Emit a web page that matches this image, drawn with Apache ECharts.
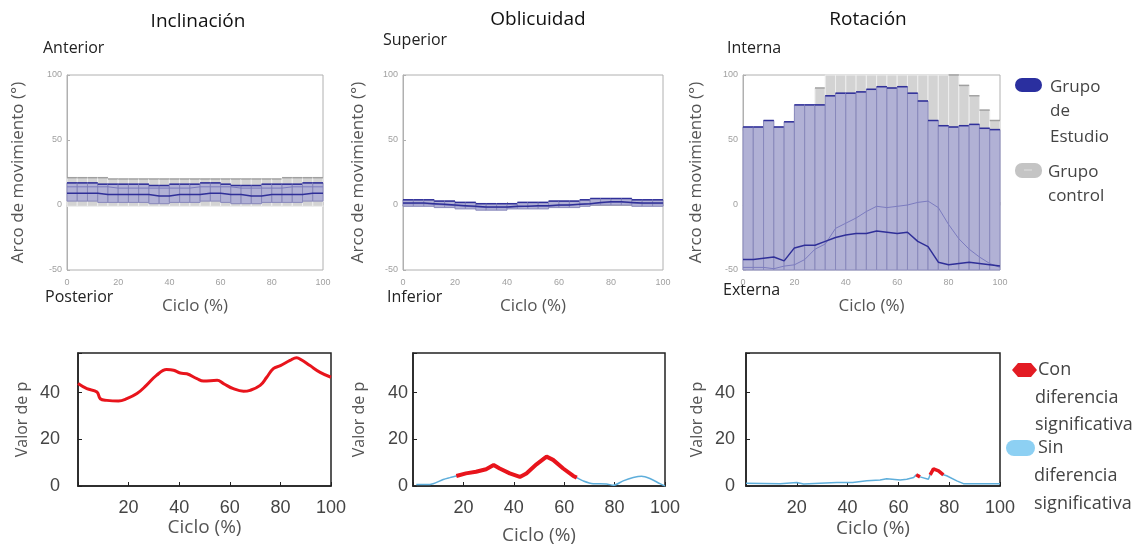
<!DOCTYPE html>
<html>
<head>
<meta charset="utf-8">
<script src="https://cdn.jsdelivr.net/npm/echarts@6/dist/echarts.min.js"></script>
<style>
  html, body { margin: 0; background: #fff; }
  #chart { width: 1148px; height: 548px; }
</style>
</head>
<body>
<div id="chart"></div>
<script>
// ciclo (%) de cada barra de error (centro) y de las medias
const cycleBar = [2, 6, 10, 14, 18, 22, 26, 30, 34, 38, 42, 46, 50, 54, 58, 62, 66, 70, 74, 78, 82, 86, 90, 94, 98]
const cycleLine = [0, 4, 8, 12, 16, 20, 24, 28, 32, 36, 40, 44, 48, 52, 56, 60, 64, 68, 72, 76, 80, 84, 88, 92, 96, 100]

// Inclinación
const incStudyLo = [3, 3, 3, 2, 2, 2, 2, 2, 1, 1, 2, 2, 2, 3, 3, 2, 1, 1, 1, 2, 2, 2, 2, 3, 3]
const incStudyHi = [17, 17, 17, 16, 16, 16, 16, 16, 15, 15, 16, 16, 16, 17, 17, 16, 15, 15, 15, 16, 16, 16, 16, 17, 17]
const incCtrlLo = [-1, -1, -1, -1, -1, -1, -1, -1, -1, -1, -1, -1, -1, -1, -1, -1, -1, -1, -1, -1, -1, -1, -1, -1, -1]
const incCtrlHi = [21, 21, 21, 21, 20, 20, 20, 20, 20, 20, 20, 20, 20, 20, 20, 20, 20, 20, 20, 20, 20, 21, 21, 21, 21]
const incStudyMean = [9, 9, 9, 9, 8, 8, 8, 8, 8, 7, 7, 8, 8, 8, 9, 9, 8, 8, 7, 7, 8, 8, 8, 8, 9, 9]
const incCtrlMean = [14, 14, 14, 14, 14, 13, 13, 13, 13, 13, 13, 13, 13, 14, 14, 14, 14, 13, 13, 13, 13, 13, 14, 14, 14, 14]

// Oblicuidad
const oblStudyLo = [-1, -1, -1, -2, -2, -3, -3, -4, -4, -4, -3, -3, -3, -3, -2, -2, -2, -1, 0, 0, 0, 0, -1, -1, -1]
const oblStudyHi = [4, 4, 4, 3, 3, 2, 2, 1, 1, 1, 1, 2, 2, 2, 3, 3, 3, 4, 5, 5, 5, 5, 4, 4, 4]
const oblCtrlLo = [0, 0, 0, -1, -1, -2, -2, -3, -3, -3, -2, -2, -2, -2, -1, -1, -1, 0, 1, 1, 1, 1, 0, 0, 0]
const oblCtrlHi = [3, 3, 3, 2, 2, 1, 1, 0, 0, 0, 0, 1, 1, 1, 2, 2, 2, 3, 4, 4, 4, 4, 3, 3, 3]
const oblStudyMean = [1.5, 1.5, 1.5, 1, 0.5, 0, -0.5, -1, -1.5, -1.5, -1.5, -1, -1, -0.5, -0.5, 0, 0, 0.5, 1, 2, 2.5, 2.5, 2, 1.5, 1.5, 1.5]
const oblCtrlMean = [1, 1, 1, 0.5, 0, -0.5, -1, -1.5, -2, -2, -2, -1.5, -1, -1, -1, -0.5, 0, 0.5, 1, 1.5, 2, 2, 1.5, 1, 1, 1]

// Rotación
const rotStudyLo = [-50, -50, -50, -50, -50, -50, -50, -50, -50, -50, -50, -50, -50, -50, -50, -50, -50, -50, -50, -50, -50, -50, -50, -50, -50]
const rotStudyHi = [60, 60, 65, 60, 64, 77, 77, 77, 84, 86, 86, 87, 89, 91, 90, 91, 86, 80, 65, 61, 60, 61, 62, 59, 58]
const rotCtrlLo = [-55, -55, -55, -55, -55, -55, -55, -55, -55, -55, -55, -55, -55, -55, -55, -55, -55, -55, -55, -55, -55, -55, -55, -55, -55]
const rotCtrlHi = [57, 56, 57, 58, 60, 70, 76, 90, 102, 106, 108, 110, 110, 110, 110, 108, 106, 104, 102, 101, 100, 92, 84, 73, 65]
const rotStudyMean = [-42, -42, -41, -40, -43, -33, -31, -31, -28, -25, -23, -22, -22, -20, -21, -22, -21, -28, -32, -44, -46, -45, -44, -45, -46, -47]
const rotCtrlMean = [-48, -48, -48, -49, -47, -46, -42, -34, -30, -18, -14, -10, -5, -1, -2, -1, 0, 2, 3, -2, -15, -26, -34, -40, -45, -48]

// Valor de p
const incPx = [0, 3.5, 7.5, 8.8, 11.4, 16, 19.3, 23.3, 27, 31, 35, 37.8, 40.4, 43, 47, 49.6, 55, 57.5, 61.4, 65.4, 68, 72, 74.6, 77.2, 80, 83.8, 86.4, 88.4, 91.7, 95.7, 100]
const incP = [43.9, 41.7, 40.3, 37.4, 36.7, 36.4, 37.4, 39.6, 43.1, 47.4, 49.9, 49.6, 48.4, 48.1, 46, 45, 45.3, 43.9, 41.7, 40.6, 41, 43.1, 46.6, 50.3, 51.6, 53.8, 55, 54, 51.6, 48.7, 46.6]

const oblPx = [1.3, 5.3, 8, 12, 14.6, 17.2, 21, 25, 29, 32, 34.4, 38.4, 42.4, 45, 49, 53, 55.6, 59.6, 63.6, 65, 67.5, 71.5, 76.8, 79.5, 83.4, 87.4, 90.7, 94, 98, 100]
const oblP = [0.6, 0.6, 1, 2.8, 3.6, 4.3, 5.4, 6.1, 7.2, 9, 7.5, 5.4, 3.9, 5.4, 9.3, 12.6, 11.2, 7.5, 4.3, 3.6, 2.2, 1, 0.9, 0.3, 2.2, 3.6, 4.2, 3.2, 1, 0]
const oblSig = [[17, 65.5]]

const rotPx = [0, 13.5, 20, 22.7, 29, 35.8, 42, 47.6, 52.8, 55.4, 60.7, 63.3, 66, 67, 68.5, 71.8, 72.5, 73.8, 75.8, 77.7, 79, 83, 85.6, 92, 100]
const rotP = [1.2, 1, 1.5, 0.9, 1.2, 1.5, 1.5, 2.2, 2.6, 3.1, 2.6, 2.9, 3.6, 4.8, 3.9, 2.9, 4.8, 7.3, 6.5, 4.8, 4.4, 2.2, 1, 1, 1]
const rotSig = [[66.5, 69], [72, 78]]

const FONT = '"Open Sans", "Noto Sans", sans-serif'
const HALF = 2

const zip = (xs, ys) => xs.map((x, i) => [x, ys[i]])
const band = (lo, hi) => cycleBar.map((x, i) => [x, lo[i], hi[i]])
const sigOnly = (xs, ys, ranges) => xs.map((x, i) =>
  ranges.some(r => x >= r[0] && x <= r[1]) ? [x, ys[i]] : [x, '-'])

// barras de error dibujadas como rectángulos verticales
function bandRender(fill, stroke, capColor) {
  return function (params, api) {
    const x = api.value(0), lo = api.value(1), hi = api.value(2)
    const a = api.coord([x - HALF, hi])
    const b = api.coord([x + HALF, lo])
    const cs = params.coordSys
    const r = echarts.graphic.clipRectByRect(
      {x: a[0], y: a[1], width: b[0] - a[0], height: b[1] - a[1]},
      {x: cs.x, y: cs.y, width: cs.width, height: cs.height})
    if (!r) return
    const children = [{type: 'rect', shape: r, style: {fill: fill, stroke: stroke, lineWidth: 1}}]
    if (a[1] >= cs.y) {
      children.push({type: 'line', shape: {x1: r.x, y1: a[1], x2: r.x + r.width, y2: a[1]},
        style: {stroke: capColor, lineWidth: 1.5}})
    }
    return {type: 'group', children: children}
  }
}

const topGrids = [
  {left: 67, top: 75, width: 256, height: 195},
  {left: 403, top: 75, width: 260, height: 195},
  {left: 743, top: 75, width: 257, height: 195}
]
const botGrids = [
  {left: 78, top: 353, width: 253, height: 133},
  {left: 413, top: 353, width: 252, height: 133},
  {left: 746, top: 353, width: 254, height: 133}
]
const topNameGap = [40, 36, 38]
const botNameGap = [48, 46, 41]
const botLabelMargin = [18, 5, 11]
const botXNameGap = [29, 40, 33]

const grids = topGrids.concat(botGrids).map(g =>
  Object.assign({show: true, borderColor: g.top < 300 ? '#b0b0b0' : '#222', borderWidth: g.top < 300 ? 1 : 1.5, backgroundColor: 'transparent'}, g))

const xAxes = [], yAxes = []
topGrids.forEach((g, i) => {
  xAxes.push({
    type: 'value', gridIndex: i, min: 0, max: 100, interval: 20,
    axisLine: {lineStyle: {color: '#b0b0b0'}},
    axisTick: {inside: true, length: 3, lineStyle: {color: '#b0b0b0'}},
    axisLabel: {fontSize: 9, color: '#a0a0a0', margin: 8, fontFamily: 'Liberation Sans'},
    splitLine: {show: false},
    name: 'Ciclo (%)', nameLocation: 'middle', nameGap: 28,
    nameTextStyle: {fontSize: 17, color: '#555', fontFamily: FONT}
  })
  yAxes.push({
    type: 'value', gridIndex: i, min: -50, max: 100, interval: 50,
    axisLine: {lineStyle: {color: '#b0b0b0'}},
    axisTick: {inside: true, length: 3, lineStyle: {color: '#b0b0b0'}},
    axisLabel: {fontSize: 9, color: '#a0a0a0', margin: 5, fontFamily: 'Liberation Sans'},
    splitLine: {show: false},
    name: 'Arco de movimiento (°)', nameLocation: 'middle', nameGap: topNameGap[i],
    nameTextStyle: {fontSize: 17, color: '#555', fontFamily: FONT}
  })
})
botGrids.forEach((g, i) => {
  xAxes.push({
    type: 'value', gridIndex: i + 3, min: 0, max: 100, interval: 20,
    axisLine: {lineStyle: {color: '#222', width: 1.5}},
    axisTick: {inside: true, length: 4, lineStyle: {color: '#222'}},
    axisLabel: {fontSize: 18, color: '#444', margin: 13, fontFamily: 'Liberation Sans',
      formatter: v => v === 0 ? '' : v},
    splitLine: {show: false},
    name: 'Ciclo (%)', nameLocation: 'middle', nameGap: botXNameGap[i],
    nameTextStyle: {fontSize: 19, color: '#555', fontFamily: FONT}
  })
  yAxes.push({
    type: 'value', gridIndex: i + 3, min: 0, max: 57, interval: 20,
    axisLine: {lineStyle: {color: '#222', width: 1.5}},
    axisTick: {inside: true, length: 4, lineStyle: {color: '#222'}},
    axisLabel: {fontSize: 18, color: '#444', margin: botLabelMargin[i], fontFamily: 'Liberation Sans',
      formatter: v => v % 20 === 0 ? v : ''},
    splitLine: {show: false},
    name: 'Valor de p', nameLocation: 'middle', nameGap: botNameGap[i],
    nameTextStyle: {fontSize: 16, color: '#555', fontFamily: FONT}
  })
})

const bandSets = [
  [incStudyLo, incStudyHi, incCtrlLo, incCtrlHi, incStudyMean, incCtrlMean],
  [oblStudyLo, oblStudyHi, oblCtrlLo, oblCtrlHi, oblStudyMean, oblCtrlMean],
  [rotStudyLo, rotStudyHi, rotCtrlLo, rotCtrlHi, rotStudyMean, rotCtrlMean]
]

const series = []
bandSets.forEach((s, i) => {
  series.push({
    type: 'custom', xAxisIndex: i, yAxisIndex: i, name: 'Grupo control',
    renderItem: bandRender('#d3d3d3', '#ededed', '#a0a0a0'),
    encode: {x: 0, y: [1, 2]}, data: band(s[2], s[3]), silent: true
  })
  series.push({
    type: 'custom', xAxisIndex: i, yAxisIndex: i, name: 'Grupo de Estudio',
    renderItem: bandRender('#b1b1d5', '#8888bb', '#30309a'),
    encode: {x: 0, y: [1, 2]}, data: band(s[0], s[1]), silent: true
  })
  series.push({
    type: 'line', xAxisIndex: i, yAxisIndex: i, data: zip(cycleLine, s[5]),
    showSymbol: false, lineStyle: {color: '#7b7bbf', width: 1}, silent: true
  })
  series.push({
    type: 'line', xAxisIndex: i, yAxisIndex: i, data: zip(cycleLine, s[4]),
    showSymbol: false, lineStyle: {color: '#2f2f98', width: 1.5}, silent: true
  })
})

const BLUE = '#5eaedb', RED = '#e8141c'
// Inclinación: todo significativo
series.push({type: 'line', xAxisIndex: 3, yAxisIndex: 3, data: zip(incPx, incP), smooth: 0.4,
  showSymbol: false, lineStyle: {color: RED, width: 3}})
// Oblicuidad
series.push({type: 'line', xAxisIndex: 4, yAxisIndex: 4, data: zip(oblPx, oblP), smooth: 0.3,
  showSymbol: false, lineStyle: {color: BLUE, width: 1.5}})
series.push({type: 'line', xAxisIndex: 4, yAxisIndex: 4, data: sigOnly(oblPx, oblP, oblSig),
  showSymbol: false, connectNulls: false, lineStyle: {color: RED, width: 4}})
// Rotación
series.push({type: 'line', xAxisIndex: 5, yAxisIndex: 5, data: zip(rotPx, rotP),
  showSymbol: false, lineStyle: {color: BLUE, width: 1.5}})
series.push({type: 'line', xAxisIndex: 5, yAxisIndex: 5, data: sigOnly(rotPx, rotP, rotSig),
  showSymbol: false, connectNulls: false, lineStyle: {color: RED, width: 3.5}})

const txt = (x, y, text, size, align, color) => ({
  type: 'text', x: x, y: y, silent: true,
  style: {text: text, font: size + 'px ' + FONT, fill: color || '#222', align: align || 'left', verticalAlign: 'middle'}
})

const graphics = [
  txt(198, 22, 'Inclinación', 19, 'center', '#111'),
  txt(538, 20, 'Oblicuidad', 19, 'center', '#111'),
  txt(868, 20, 'Rotación', 19, 'center', '#111'),
  txt(43, 48, 'Anterior', 16),
  txt(45, 297, 'Posterior', 16),
  txt(383, 40, 'Superior', 16),
  txt(387, 297, 'Inferior', 16),
  txt(727, 48, 'Interna', 16),
  txt(723, 290, 'Externa', 16),
  // leyenda superior
  {type: 'rect', shape: {x: 1015, y: 78, width: 27, height: 14, r: 7}, style: {fill: '#2a2f9f'}},
  txt(1050, 87, 'Grupo', 17, 'left', '#444'),
  txt(1050, 111, 'de', 17, 'left', '#444'),
  txt(1050, 137, 'Estudio', 17, 'left', '#444'),
  {type: 'rect', shape: {x: 1015, y: 163, width: 27, height: 15, r: 7}, style: {fill: '#c4c4c4'}},
  {type: 'line', shape: {x1: 1024, y1: 170, x2: 1032, y2: 170}, style: {stroke: '#e0e0e0', lineWidth: 1}},
  txt(1048, 172, 'Grupo', 17, 'left', '#444'),
  txt(1048, 196, 'control', 17, 'left', '#444'),
  // leyenda inferior
  {type: 'polygon', shape: {points: [[1012, 370], [1018, 363], [1031, 363], [1037, 370], [1031, 377], [1018, 377]]}, style: {fill: '#e31b23'}},
  txt(1038, 370, 'Con', 18, 'left', '#444'),
  txt(1035, 398, 'diferencia', 18, 'left', '#444'),
  txt(1035, 425, 'significativa', 18, 'left', '#444'),
  {type: 'rect', shape: {x: 1006, y: 440, width: 29, height: 16, r: 8}, style: {fill: '#8dd0f3'}},
  txt(1038, 448, 'Sin', 18, 'left', '#444'),
  txt(1034, 476, 'diferencia', 18, 'left', '#444'),
  txt(1034, 504, 'significativa', 18, 'left', '#444')
]

const chart = echarts.init(document.getElementById('chart'))
chart.setOption({
  animation: false,
  backgroundColor: '#fff',
  grid: grids,
  xAxis: xAxes,
  yAxis: yAxes,
  series: series,
  graphic: graphics
})
</script>
</body>
</html>
